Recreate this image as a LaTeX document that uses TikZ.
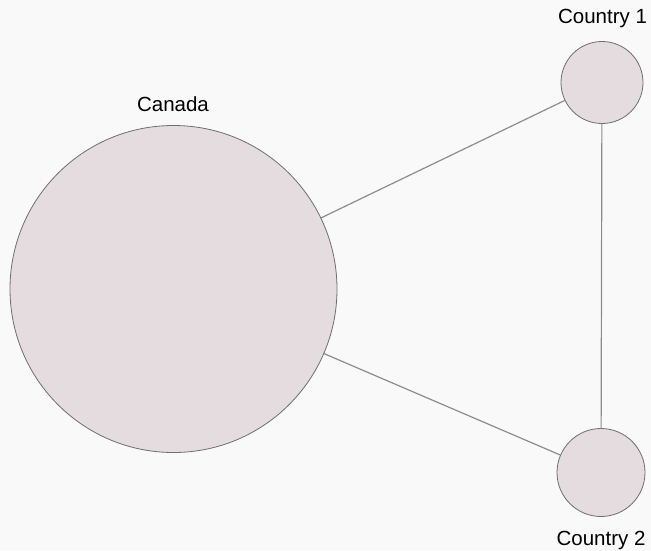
\documentclass[tikz,border=0pt]{standalone}
\usepackage{fontspec}
\setmainfont{Liberation Sans}
\usepackage{tikz}
\usetikzlibrary{positioning}

\definecolor{bgcol}{HTML}{F9F9F9}
\definecolor{nodefill}{HTML}{E4DCDF}
\definecolor{nodeline}{HTML}{6E6E6E}
\definecolor{edgeline}{HTML}{8C8C8C}

\begin{document}
\begin{tikzpicture}[x=1pt, y=-1pt,
        country/.style={circle, draw=nodeline, fill=nodefill, line width=0.8pt, inner sep=0pt, outer sep=0pt},
        edge/.style={draw=edgeline, line width=1.2pt},
        lbl/.style={font=\fontsize{20.5}{24}\selectfont, inner sep=0pt}]
    \fill[bgcol] (0,0) rectangle (651,550);
    \useasboundingbox (0,0) rectangle (651,550);

    \node[country, minimum size=327pt] (canada) at (173.5,289) {};
    \node[country, minimum size=82pt] (c1) at (602,82.5) {};
    \node[country, minimum size=88pt] (c2) at (601,472.5) {};

    \draw[edge] (canada) -- (c1);
    \draw[edge] (canada) -- (c2);
    \draw[edge] (c1) -- (c2);

    \node[lbl] (canadalbl) at (173,104) {Canada};
    \node[lbl] (c1lbl) at (602.5,18) {Country 1};
    \node[lbl] (c2lbl) at (601,540) {Country 2};
\end{tikzpicture}
\end{document}
